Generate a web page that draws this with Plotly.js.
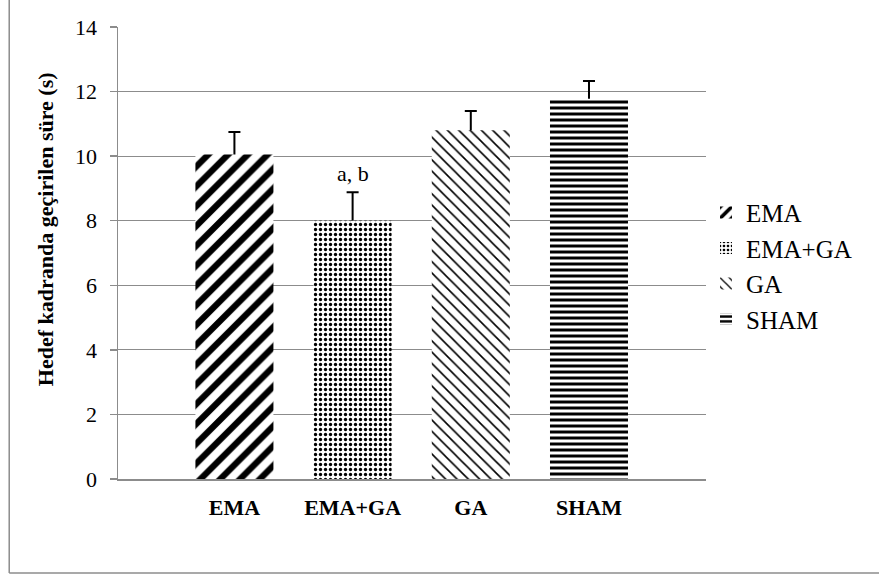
<!DOCTYPE html>
<html>
<head>
<meta charset="utf-8">
<script src="https://cdn.plot.ly/plotly-3.0.1.min.js"></script>
<style>html,body{margin:0;padding:0;background:#fff;}#chart{width:879px;height:576px;}</style>
</head>
<body>
<div id="chart"></div>
<script>
// Data
const groups = ["EMA", "EMA+GA", "GA", "SHAM"];
const means = [10.05, 8.0, 10.8, 11.78];
const errors = [0.7, 0.88, 0.6, 0.55];
const noteGroup = "EMA+GA";
const noteText = "a, b";
const yTitle = "Hedef kadranda geçirilen süre (s)";
const yTicks = [0, 2, 4, 6, 8, 10, 12, 14];

const patterns = [
  {shape: "/", size: 14, solidity: 0.45},
  {shape: ".", size: 5, solidity: 0.35},
  {shape: "\\", size: 8, solidity: 0.2},
  {shape: "-", size: 6, solidity: 0.5}
];

const serif = "Liberation Serif";
const xIdx = groups.map((g, i) => i);

// error-bar carrier traces (drawn first, hidden lower cap sits inside the opaque bar)
const errTraces = groups.map((g, i) => ({
  type: "bar",
  name: g + " err",
  x: [i],
  y: [means[i]],
  width: 0.66,
  showlegend: false,
  marker: {color: "rgba(0,0,0,0)", line: {width: 0}},
  error_y: {type: "data", symmetric: false, array: [errors[i]], arrayminus: [0.4], color: "#000000", thickness: 2, width: 6},
  hoverinfo: "skip"
}));

const barTraces = groups.map((g, i) => ({
  type: "bar",
  name: g,
  x: [i],
  y: [means[i]],
  width: 0.66,
  marker: {
    color: "#ffffff",
    line: {width: 0},
    pattern: Object.assign({fgcolor: "#000000", bgcolor: "#ffffff", fillmode: "replace"}, patterns[i])
  },
  hoverinfo: "skip"
}));

const ni = groups.indexOf(noteGroup);

const layout = {
  width: 879, height: 576,
  margin: {l: 118, r: 173, t: 27, b: 97},
  paper_bgcolor: "#ffffff", plot_bgcolor: "#ffffff",
  barmode: "overlay",
  showlegend: true,
  legend: {
    x: 1.0, xanchor: "left", y: 0.64, yanchor: "top",
    font: {family: serif, size: 25, color: "#000"},
    traceorder: "normal", tracegroupgap: 3,
    itemwidth: 30, bgcolor: "rgba(0,0,0,0)"
  },
  xaxis: {
    range: [-0.985, 3.99],
    tickmode: "array", tickvals: xIdx, ticktext: groups,
    tickfont: {family: serif, size: 22, color: "#000", weight: "bold"},
    showgrid: false, zeroline: false,
    showline: true, linecolor: "#8c8c8c", linewidth: 1.5,
    ticks: "", ticklabelstandoff: 8, fixedrange: true
  },
  yaxis: {
    range: [0, 14],
    tickmode: "array", tickvals: yTicks,
    tickfont: {family: serif, size: 22, color: "#000"},
    showgrid: true, gridcolor: "#8c8c8c", gridwidth: 1,
    zeroline: false,
    showline: true, linecolor: "#8c8c8c", linewidth: 1.5,
    ticks: "outside", ticklen: 7, tickcolor: "#8c8c8c", tickwidth: 1.5,
    ticklabelstandoff: 8, fixedrange: true
  },
  annotations: [
    {
      text: "<b>" + yTitle + "</b>", textangle: -90,
      xref: "paper", yref: "paper", x: -0.124, y: 0.553,
      xanchor: "center", yanchor: "middle", showarrow: false,
      font: {family: serif, size: 22, color: "#000"}
    },
    {
      text: noteText, xref: "x", yref: "y", x: ni, y: means[ni] + errors[ni],
      xanchor: "center", yanchor: "bottom", yshift: 4, showarrow: false,
      font: {family: serif, size: 22, color: "#000"}
    }
  ],
  shapes: [
    {type: "line", xref: "paper", yref: "paper", x0: -0.185, x1: -0.185, y0: -0.208, y1: 1.2, line: {color: "#8c8c8c", width: 1.5}},
    {type: "line", xref: "paper", yref: "paper", x0: -0.185, x1: 1.4, y0: -0.208, y1: -0.208, line: {color: "#8c8c8c", width: 1.5}}
  ]
};

Plotly.newPlot("chart", errTraces.concat(barTraces), layout, {staticPlot: true, displayModeBar: false});
</script>
</body>
</html>
